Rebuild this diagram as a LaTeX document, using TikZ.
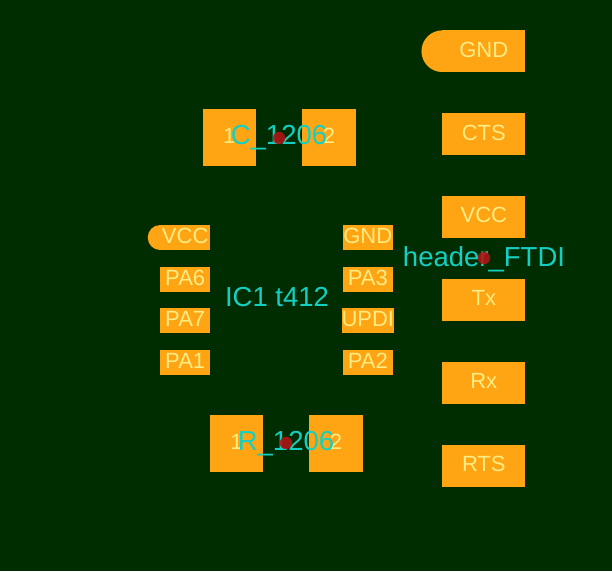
\documentclass[tikz,border=0pt]{standalone}
\usepackage{fontspec}
\setmainfont{Liberation Sans}
\definecolor{boardbg}{RGB}{0,45,0}
\definecolor{padorange}{RGB}{255,165,20}
\definecolor{padtext}{RGB}{255,236,130}
\definecolor{reftext}{RGB}{20,208,196}
\definecolor{origin}{RGB}{178,20,20}
\tikzset{
  padbox/.style={fill=padorange,inner sep=0pt,outer sep=0pt,text=padtext,
    font=\fontsize{22}{24}\selectfont,text height=15.7pt},
  icpad/.style={padbox,text depth=3.6pt,minimum width=50pt,minimum height=25pt},
  ftdipad/.style={padbox,text depth=4pt,minimum width=83pt,minimum height=41.7pt},
  smdpad/.style={padbox,text depth=3pt,minimum width=53.2pt,minimum height=56.6pt},
  reflabel/.style={inner sep=0pt,text=reftext,
    font=\fontsize{27.5}{30}\selectfont,text height=19.7pt,text depth=0pt},
  origindot/.style={circle,fill=origin,fill opacity=.88,inner sep=0pt,minimum size=12.5pt},
}
\begin{document}
\begin{tikzpicture}[x=1pt,y=-1pt]
\useasboundingbox (0,0) rectangle (612,571);
\fill[boardbg] (0,0) rectangle (612,571);
% IC1 pads
\node[icpad] (icvcc) at (185.2,237.5) {VCC};
\node[icpad] (icpa6) at (185.2,279.2) {PA6};
\node[icpad] (icpa7) at (185.2,320.7) {PA7};
\node[icpad] (icpa1) at (185.2,362.4) {PA1};
\node[icpad] (icgnd) at (367.8,237.5) {GND};
\node[icpad] (icpa3) at (367.8,279.2) {PA3};
\node[icpad] (icupdi) at (367.8,320.7) {UPDI};
\node[icpad] (icpa2) at (367.8,362.4) {PA2};
\fill[padorange] (icvcc.north west) arc[start angle=90,end angle=270,radius=12.5pt] -- cycle;
% FTDI header pads
\node[ftdipad] (ftgnd) at (483.8,51.2) {GND};
\node[ftdipad] (ftcts) at (483.8,134.2) {CTS};
\node[ftdipad] (ftvcc) at (483.8,216.9) {VCC};
\node[ftdipad] (fttx) at (483.8,300) {Tx};
\node[ftdipad] (ftrx) at (483.8,383) {Rx};
\node[ftdipad] (ftrts) at (483.8,466) {RTS};
\fill[padorange] (ftgnd.north west) arc[start angle=90,end angle=270,radius=20.85pt] -- cycle;
% C and R pads
\node[smdpad] (cone) at (229.2,137.4) {1};
\node[smdpad] (ctwo) at (329,137.4) {2};
\node[smdpad] (rone) at (236.6,443.5) {1};
\node[smdpad] (rtwo) at (336,443.5) {2};
% reference labels
\node[reflabel] (clabel) at (279,135) {C\_1206};
\node[reflabel] (rlabel) at (286,441) {R\_1206};
\node[reflabel] (iclabel) at (277,297) {IC1 t412};
\node[reflabel] (ftlabel) at (484,256.5) {header\_FTDI};
% origins
\node[origindot] (corigin) at (279,138) {};
\node[origindot] (rorigin) at (286,443) {};
\node[origindot] (ftorigin) at (484,258) {};
\end{tikzpicture}
\end{document}
